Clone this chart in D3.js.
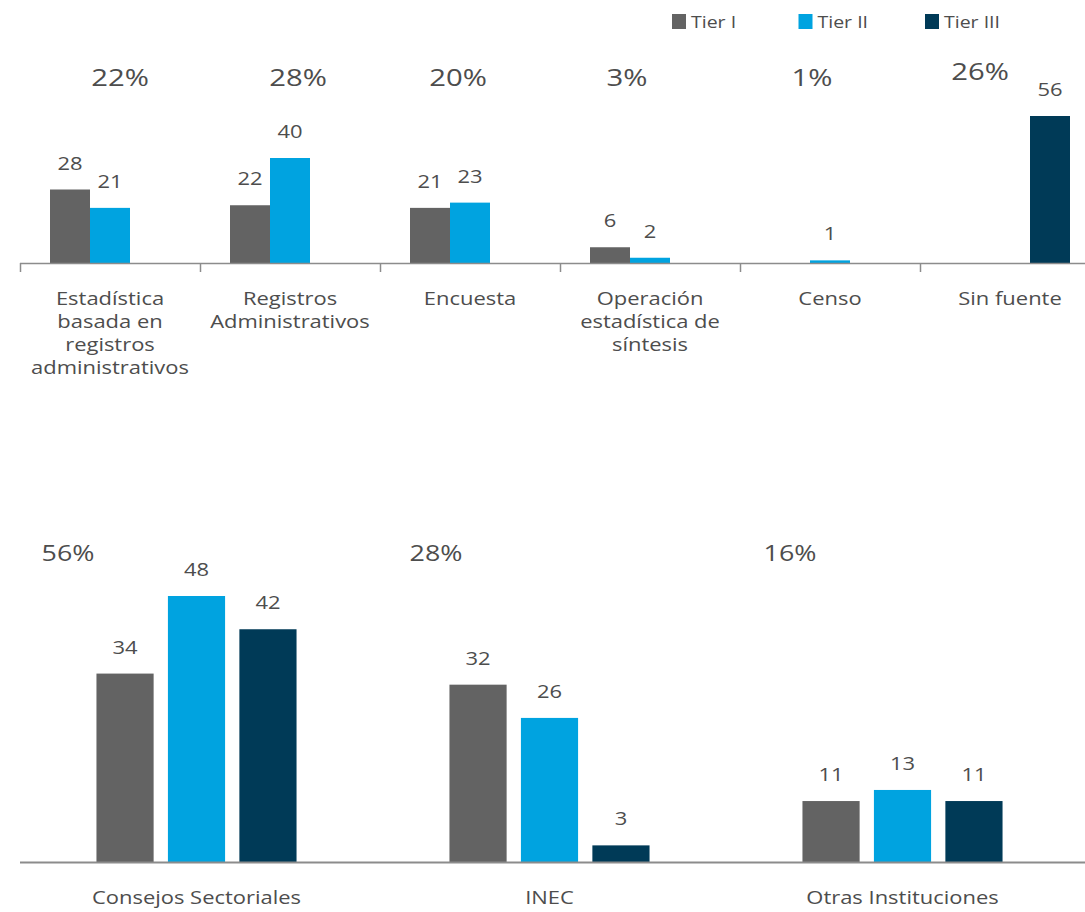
<!DOCTYPE html>
<html>
<head>
<meta charset="utf-8">
<script src="https://cdn.jsdelivr.net/npm/d3@7"></script>
<style>
  body { margin: 0; background: #fff; }
  text { font-family: "Open Sans", sans-serif; fill: #4d4d4d; }
</style>
</head>
<body>
<svg id="chart" width="1085" height="912"></svg>
<script>
// Top panel: by source type
const sourceCats = ['Estadística basada en registros administrativos', 'Registros Administrativos',
  'Encuesta', 'Operación estadística de síntesis', 'Censo', 'Sin fuente'];
const sourceLines = [
  ['Estadística', 'basada en', 'registros', 'administrativos'],
  ['Registros', 'Administrativos'],
  ['Encuesta'],
  ['Operación', 'estadística de', 'síntesis'],
  ['Censo'],
  ['Sin fuente']
];
const sourcePct = ['22%', '28%', '20%', '3%', '1%', '26%'];
const sourceTier1 = [28, 22, 21, 6, null, null];
const sourceTier2 = [21, 40, 23, 2, 1, null];
const sourceTier3 = [null, null, null, null, null, 56];

// Bottom panel: by institution
const instCats = ['Consejos Sectoriales', 'INEC', 'Otras Instituciones'];
const instPct = ['56%', '28%', '16%'];
const instTier1 = [34, 32, 11];
const instTier2 = [48, 26, 13];
const instTier3 = [42, 3, 11];

const tiers = ['Tier I', 'Tier II', 'Tier III'];
const colors = ['#636363', '#00a3e0', '#003a57'];

const svg = d3.select('#chart');
const color = d3.scaleOrdinal().domain(tiers).range(colors);

// ---- legend ----
const legend = svg.append('g');
const legendX = d3.scalePoint().domain(tiers).range([672, 925]);
tiers.forEach(t => {
  legend.append('rect')
    .attr('x', legendX(t)).attr('y', 14)
    .attr('width', 14).attr('height', 15)
    .attr('fill', color(t));
  legend.append('text')
    .attr('x', legendX(t) + 19).attr('y', 28)
    .attr('font-size', 16)
    .text(t);
});

// generic grouped bar panel
function drawPanel(opts) {
  const { cats, series, x0Range, base, yMax, yTop, innerPad, outerPad } = opts;
  const g = svg.append('g');

  const x0 = d3.scaleBand().domain(cats).range(x0Range);
  const x1 = d3.scaleBand().domain(tiers).range([0, x0.bandwidth()])
    .paddingInner(innerPad).paddingOuter(outerPad);
  const y = d3.scaleLinear().domain([0, yMax]).range([base, yTop]);

  const rows = [];
  cats.forEach((c, i) => {
    tiers.forEach((t, j) => {
      const v = series[j][i];
      if (v != null) rows.push({ cat: c, tier: t, value: v });
    });
  });

  g.selectAll('rect.bar')
    .data(rows)
    .join('rect')
    .attr('class', 'bar')
    .attr('x', d => x0(d.cat) + x1(d.tier))
    .attr('y', d => y(d.value))
    .attr('width', x1.bandwidth())
    .attr('height', d => base - y(d.value))
    .attr('fill', d => color(d.tier));

  g.selectAll('text.val')
    .data(rows)
    .join('text')
    .attr('class', 'val')
    .attr('x', d => x0(d.cat) + x1(d.tier) + x1.bandwidth() / 2)
    .attr('y', d => y(d.value) - opts.labelGap)
    .attr('text-anchor', 'middle')
    .attr('font-size', opts.valSize)
    .text(d => d.value);

  return { g, x0, x1, y };
}

// ---- top panel ----
const topPanel = drawPanel({
  cats: sourceCats,
  series: [sourceTier1, sourceTier2, sourceTier3],
  x0Range: [20, 1100],
  base: 263, yMax: 56, yTop: 116,
  innerPad: 0, outerPad: 0.75,
  labelGap: 20, valSize: 18
});

topPanel.g.append('line')
  .attr('x1', 20).attr('x2', 1085)
  .attr('y1', 263.5).attr('y2', 263.5)
  .attr('stroke', '#8c8c8c').attr('stroke-width', 1.5);

topPanel.g.selectAll('line.tick')
  .data(sourceCats)
  .join('line')
  .attr('class', 'tick')
  .attr('x1', d => topPanel.x0(d) + 0.5).attr('x2', d => topPanel.x0(d) + 0.5)
  .attr('y1', 263).attr('y2', 272)
  .attr('stroke', '#8c8c8c').attr('stroke-width', 1.5);

const topPctNudge = [10, 8, -12, -23, -18, -30];
const topPctDy = [0, 0, 0, 0, 0, -6];
topPanel.g.selectAll('text.pct')
  .data(sourcePct)
  .join('text')
  .attr('class', 'pct')
  .attr('x', (d, i) => topPanel.x0(sourceCats[i]) + topPanel.x0.bandwidth() / 2 + topPctNudge[i])
  .attr('y', (d, i) => 86 + topPctDy[i])
  .attr('text-anchor', 'middle')
  .attr('font-size', 24)
  .text(d => d);

sourceCats.forEach((c, i) => {
  const cx = topPanel.x0(c) + topPanel.x0.bandwidth() / 2;
  const t = topPanel.g.append('text')
    .attr('text-anchor', 'middle')
    .attr('font-size', 18)
    .attr('x', cx)
    .attr('y', 305);
  sourceLines[i].forEach((ln, k) => {
    t.append('tspan')
      .attr('x', cx)
      .attr('dy', k === 0 ? 0 : 23)
      .text(ln);
  });
});

// ---- bottom panel ----
const botPanel = drawPanel({
  cats: instCats,
  series: [instTier1, instTier2, instTier3],
  x0Range: [20, 1079],
  base: 862, yMax: 48, yTop: 596,
  innerPad: 0.2, outerPad: 1.07,
  labelGap: 20, valSize: 18
});

botPanel.g.append('line')
  .attr('x1', 20).attr('x2', 1085)
  .attr('y1', 862.5).attr('y2', 862.5)
  .attr('stroke', '#8c8c8c').attr('stroke-width', 2);

const botPctNudge = [48, 63, 64];
botPanel.g.selectAll('text.pct')
  .data(instPct)
  .join('text')
  .attr('class', 'pct')
  .attr('x', (d, i) => botPanel.x0(instCats[i]) + botPctNudge[i])
  .attr('y', 561)
  .attr('text-anchor', 'middle')
  .attr('font-size', 22)
  .text(d => d);

botPanel.g.selectAll('text.cat')
  .data(instCats)
  .join('text')
  .attr('class', 'cat')
  .attr('x', d => botPanel.x0(d) + botPanel.x0.bandwidth() / 2)
  .attr('y', 904)
  .attr('text-anchor', 'middle')
  .attr('font-size', 18)
  .text(d => d);

// the source graphic is stretched sideways; widen every text the same way
svg.selectAll('text').each(function() {
  const t = d3.select(this);
  const x = +t.attr('x'), y = +t.attr('y');
  t.attr('x', 0).attr('y', 0)
    .attr('transform', `translate(${x},${y}) scale(1.22,1)`);
  t.selectAll('tspan').attr('x', 0);
});
</script>
</body>
</html>
